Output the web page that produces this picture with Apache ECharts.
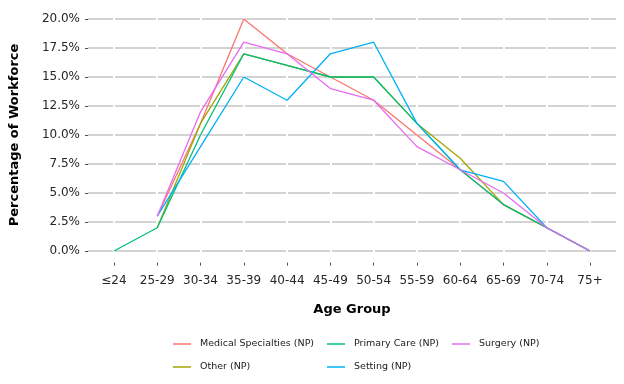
<!DOCTYPE html>
<html>
<head>
<meta charset="utf-8">
<script src="https://cdn.jsdelivr.net/npm/echarts@6/dist/echarts.min.js"></script>
<style>html,body{margin:0;padding:0;background:#fff}#c{width:624px;height:384px}</style>
</head>
<body>
<div id="c"></div>
<script>
const categories = ['≤24','25-29','30-34','35-39','40-44','45-49','50-54','55-59','60-64','65-69','70-74','75+'];
const yTicks = [0, 0.025, 0.05, 0.075, 0.1, 0.125, 0.15, 0.175, 0.2];
const seriesNames = ['Medical Specialties (NP)','Other (NP)','Primary Care (NP)','Setting (NP)','Surgery (NP)'];
const medical  = [null, 0.03, 0.11, 0.20, 0.17, 0.15, 0.13, 0.10, 0.07, 0.04, 0.02, 0.00];
const other    = [null, 0.02, 0.11, 0.17, 0.16, 0.15, 0.15, 0.11, 0.08, 0.04, 0.02, 0.00];
const primary  = [0.00, 0.02, 0.10, 0.17, 0.16, 0.15, 0.15, 0.11, 0.07, 0.04, 0.02, 0.00];
const setting  = [null, 0.03, 0.09, 0.15, 0.13, 0.17, 0.18, 0.11, 0.07, 0.06, 0.02, 0.00];
const surgery  = [null, 0.03, 0.12, 0.18, 0.17, 0.14, 0.13, 0.09, 0.07, 0.05, 0.02, 0.00];
const seriesValues = [medical, other, primary, setting, surgery];
const colors = ['#F8766D','#A3A500','#00BF7D','#00B0F6','#E76BF3'];

const font = 'DejaVu Sans';
const catIdx = categories.map((c, i) => i);

const series = seriesNames.map((name, k) => ({
  name: name,
  type: 'line',
  data: seriesValues[k].map((v, i) => v == null ? null : [i, v]).filter(d => d),
  showSymbol: false,
  symbol: 'none',
  lineStyle: { width: 1.3, color: colors[k] },
  itemStyle: { color: colors[k] },
  z: 2 + k
}));

const legendPos = [
  { left: 173, top: 339 },
  { left: 173, top: 362 },
  { left: 327, top: 339 },
  { left: 327, top: 362 },
  { left: 452, top: 339 }
];
const legends = seriesNames.map((name, k) => ({
  data: [name],
  left: legendPos[k].left,
  top: legendPos[k].top,
  orient: 'horizontal',
  icon: 'rect',
  itemWidth: 18,
  itemHeight: 1.5,
  selectedMode: false,
  padding: 0,
  textStyle: { fontFamily: font, fontSize: 9.5, color: '#1a1a1a', padding: [0, 0, 0, 4] }
}));

const chart = echarts.init(document.getElementById('c'), null, { renderer: 'canvas' });
chart.setOption({
  animation: false,
  backgroundColor: '#ffffff',
  color: colors,
  grid: { left: 88, right: 8, top: 7.4, bottom: 121.4, containLabel: false },
  legend: legends,
  xAxis: {
    type: 'value',
    min: -0.6,
    max: 11.6,
    z: 1,
    name: 'Age Group',
    nameLocation: 'middle',
    nameGap: 41,
    nameTextStyle: { fontFamily: font, fontSize: 13, fontWeight: 'bold', color: '#000' },
    axisLine: { show: false, onZero: false },
    axisTick: { show: true, length: 3, customValues: catIdx, lineStyle: { color: '#4d4d4d', width: 1 } },
    axisLabel: {
      customValues: catIdx,
      margin: 12,
      fontFamily: font, fontSize: 12, color: '#262626',
      formatter: v => categories[Math.round(v)]
    },
    splitLine: { show: true, lineStyle: { color: '#ffffff', width: 2 } }
  },
  yAxis: {
    type: 'value',
    min: -0.01,
    max: 0.21,
    z: 0,
    name: 'Percentage of Workforce',
    nameLocation: 'middle',
    nameGap: 67,
    nameTextStyle: { fontFamily: font, fontSize: 13, fontWeight: 'bold', color: '#000' },
    axisLine: { show: false, onZero: false },
    axisTick: { show: true, length: 3, customValues: yTicks, lineStyle: { color: '#4d4d4d', width: 1 } },
    axisLabel: {
      customValues: yTicks,
      margin: 8,
      fontFamily: font, fontSize: 12, color: '#262626',
      formatter: v => (v * 100).toFixed(1) + '%'
    },
    splitLine: { show: true, lineStyle: { color: '#c4c4c4', width: 1.5 } }
  },
  series: series
});
</script>
</body>
</html>
